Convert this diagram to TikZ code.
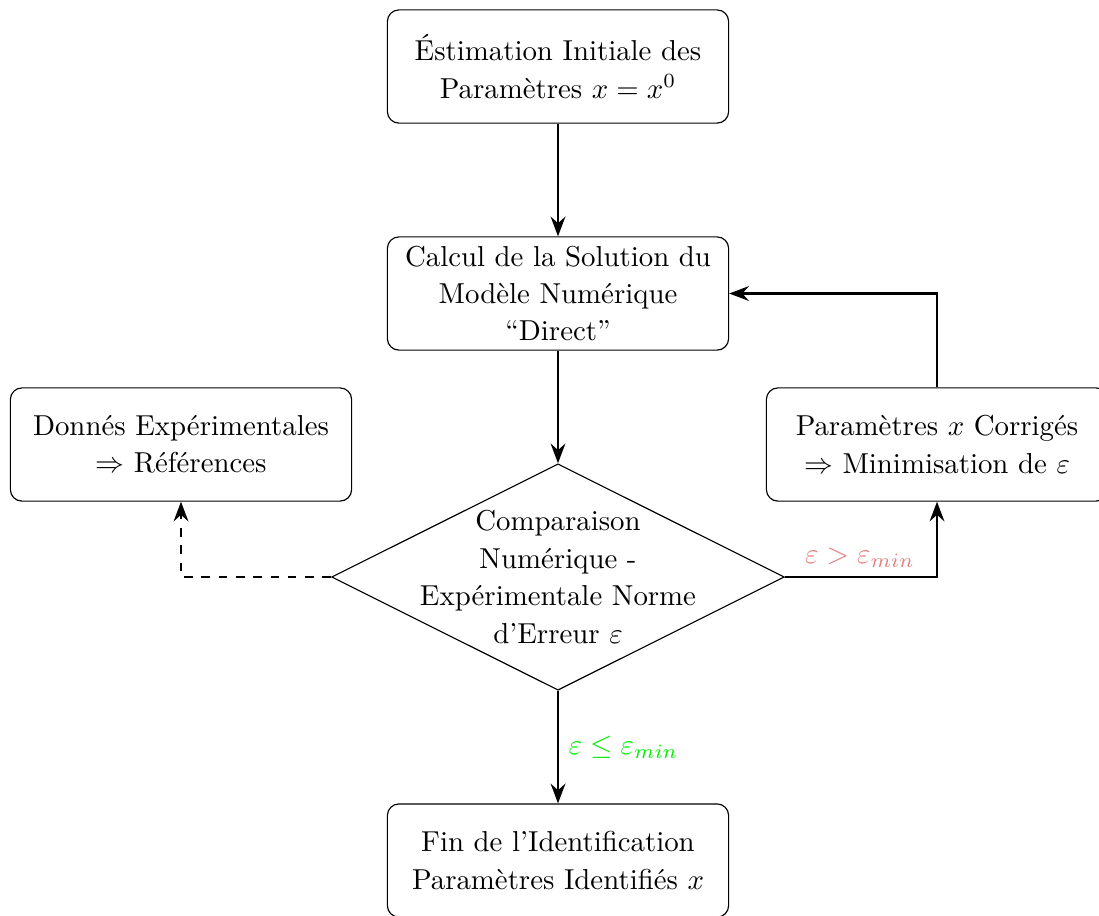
\documentclass[tikz,border=0pt]{standalone}
\usetikzlibrary{arrows.meta,shapes.geometric}
\definecolor{gtcolor}{RGB}{230,128,128}
\definecolor{lecolor}{RGB}{0,240,0}
\begin{document}
\begin{tikzpicture}[x=0.012195cm,y=-0.012195cm,
  box/.style={draw,rounded corners=4pt,minimum width=4.16cm,minimum height=1.38cm,align=center,inner sep=2pt,font=\fontsize{10}{13}\selectfont},
  dia/.style={draw,diamond,minimum width=5.52cm,minimum height=2.76cm,inner sep=0pt},
  txt/.style={align=center,font=\fontsize{10}{13}\selectfont},
  conn/.style={thick,-{Stealth[length=2.4mm,width=1.8mm,inset=0.8mm]}},
  lab/.style={font=\fontsize{10}{12}\selectfont}]
\useasboundingbox (0,0) rectangle (1099,915);
\node[box] (init) at (558,66.5) {Éstimation Initiale des\\Paramètres $x = x^0$};
\node[box] (calc) at (558,293.5) {Calcul de la Solution du\\Modèle Numérique\\``Direct''};
\node[box] (data) at (181,444.5) {Donnés Expérimentales\\$\Rightarrow$ Références};
\node[box] (corr) at (937,444.5) {Paramètres $x$ Corrigés\\$\Rightarrow$ Minimisation de $\varepsilon$};
\node[dia] (dec) at (558,577) {};
\node[txt] (dectxt) at (dec.center) {Comparaison\\Numérique -\\Expérimentale Norme\\d'Erreur $\varepsilon$};
\node[box] (fin) at (558,860.5) {Fin de l'Identification\\Paramètres Identifiés $x$};
\coordinate (cr) at (937,577);
\coordinate (cl) at (181,577);
\coordinate (ct) at (937,293.5);
\draw[conn] (init) -- (calc);
\draw[conn] (calc) -- (dec.north);
\draw[conn] (dec.south) -- node[right,lab,text=lecolor] {$\varepsilon \leq \varepsilon_{min}$} (fin);
\draw[conn] (dec.east) -- (cr) -- (corr.south);
\node[lab,text=gtcolor] (gtlab) at (860,558) {$\varepsilon > \varepsilon_{min}$};
\draw[conn] (corr.north) -- (ct) -- (calc.east);
\draw[conn,dashed] (dec.west) -- (cl) -- (data.south);
\end{tikzpicture}
\end{document}
